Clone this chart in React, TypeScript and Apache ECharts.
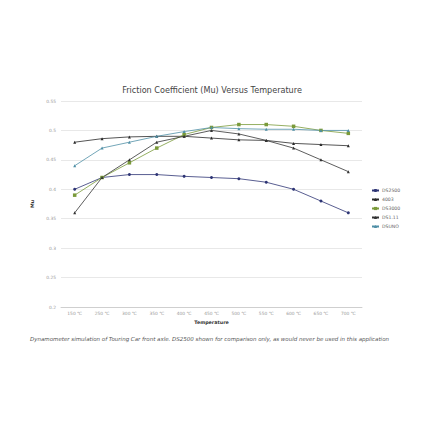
import React, { useEffect, useRef } from "react";
import * as echarts from "echarts";

const categories = ["150 ℃", "250 ℃", "300 ℃", "350 ℃", "400 ℃", "450 ℃", "500 ℃", "550 ℃", "600 ℃", "650 ℃", "700 ℃"];
const seriesNames = ["DS2500", "4003", "DS3000", "DS1.11", "DSUNO"];
const ds2500 = [0.40, 0.42, 0.425, 0.425, 0.422, 0.42, 0.418, 0.412, 0.40, 0.38, 0.36];
const s4003 = [0.48, 0.486, 0.489, 0.49, 0.49, 0.487, 0.484, 0.483, 0.478, 0.476, 0.474];
const ds3000 = [0.39, 0.42, 0.445, 0.47, 0.493, 0.505, 0.51, 0.51, 0.507, 0.50, 0.495];
const ds111 = [0.36, 0.42, 0.45, 0.48, 0.49, 0.50, 0.494, 0.483, 0.47, 0.45, 0.43];
const dsuno = [0.44, 0.47, 0.48, 0.49, 0.498, 0.505, 0.503, 0.502, 0.502, 0.50, 0.50];
const seriesValues = [ds2500, s4003, ds3000, ds111, dsuno];
const colors = ["#2e3575", "#2a2a2a", "#7a9a3a", "#333333", "#4f8fa6"];
const symbols = ["circle", "triangle", "rect", "triangle", "triangle"];

const FONT = "DejaVu Sans";

export default function App() {
  const ref = useRef<HTMLDivElement>(null);
  useEffect(() => {
    const chart = echarts.init(ref.current!, null, { renderer: "svg" });
    chart.setOption({
      animation: false,
      backgroundColor: "#ffffff",
      textStyle: { fontFamily: FONT },
      title: {
        text: "Friction Coefficient (Mu) Versus Temperature",
        left: 207,
        textAlign: "center",
        top: 81,
        textStyle: { fontSize: 8.1, fontWeight: "normal", color: "#444", fontFamily: FONT },
      },
      legend: {
        orient: "vertical",
        left: 366,
        top: 183,
        itemWidth: 7,
        itemHeight: 4,
        itemGap: 4,
        textStyle: { fontSize: 4.6, lineHeight: 5, color: "#666", fontFamily: FONT, padding: [0, 0, 0, -2] },
        data: seriesNames,
      },
      grid: { left: 61, right: 68, top: 101, bottom: 123, containLabel: false },
      xAxis: {
        type: "category",
        data: categories,
        boundaryGap: true,
        name: "Temperature",
        nameLocation: "middle",
        nameGap: 13,
        nameTextStyle: { fontSize: 4.8, fontWeight: "bold", color: "#333", fontFamily: FONT },
        axisLine: { lineStyle: { color: "#c8c8c8", width: 0.8 } },
        axisTick: { show: false },
        axisLabel: { fontSize: 4.4, color: "#999", margin: 4, interval: 0 },
      },
      yAxis: {
        type: "value",
        min: 0.2,
        max: 0.55,
        interval: 0.05,
        name: "Mu",
        nameLocation: "middle",
        nameGap: 19,
        nameRotate: 90,
        nameTextStyle: { fontSize: 4.8, fontWeight: "bold", color: "#333", fontFamily: FONT },
        axisLine: { show: false },
        axisTick: { show: false },
        axisLabel: { fontSize: 4.4, color: "#999", margin: 5 },
        splitLine: { lineStyle: { color: "#e2e2e2", width: 0.8 } },
      },
      graphic: [
        {
          type: "text",
          left: 30,
          top: 336,
          style: {
            text: "Dynamometer simulation of Touring Car front axle. DS2500 shown for comparison only, as would never be used in this application",
            fontSize: 5.5,
            fontStyle: "italic",
            fill: "#555",
            fontFamily: FONT,
          },
        },
      ],
      series: seriesNames.map((n, i) => ({
        name: n,
        type: "line",
        data: seriesValues[i],
        symbol: symbols[i],
        symbolSize: i === 2 ? 3.5 : 3,
        showSymbol: true,
        lineStyle: { width: 0.8, color: colors[i] },
        itemStyle: { color: colors[i] },
      })),
    });
    return () => chart.dispose();
  }, []);
  return <div ref={ref} style={{ position: "absolute", left: 0, top: 0, width: 430, height: 430 }} />;
}
